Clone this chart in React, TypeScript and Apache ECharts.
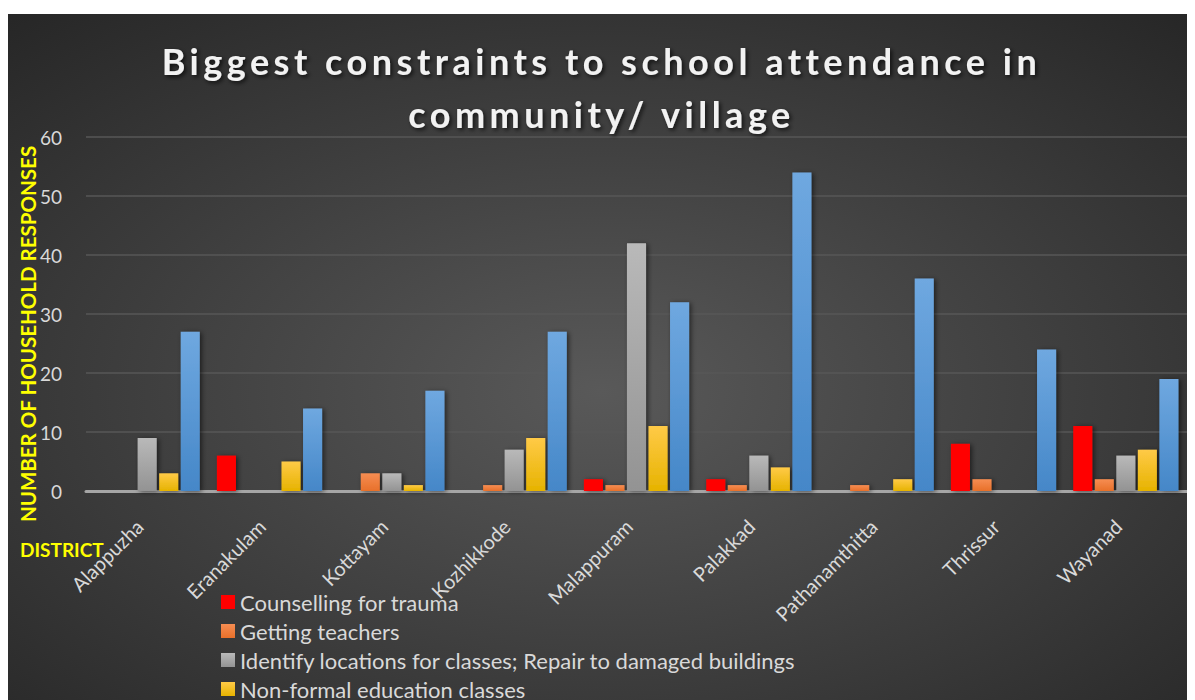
import React, { useEffect, useRef } from "react";
import * as echarts from "echarts";

const districts = ["Alappuzha", "Eranakulam", "Kottayam", "Kozhikkode", "Malappuram", "Palakkad", "Pathanamthitta", "Thrissur", "Wayanad"];
const counselling = [0, 6, 0, 0, 2, 2, 0, 8, 11];
const teachers = [0, 0, 3, 1, 1, 1, 1, 2, 2];
const locations = [9, 0, 3, 7, 42, 6, 0, 0, 6];
const nonFormal = [3, 5, 1, 9, 11, 4, 2, 0, 7];
const otherSupport = [27, 14, 17, 27, 32, 54, 36, 24, 19];
const seriesNames = [
  "Counselling for trauma",
  "Getting teachers",
  "Identify locations for classes; Repair to damaged buildings",
  "Non-formal education classes",
  "Provision of school supplies",
];
const visibleLegend = seriesNames.slice(0, 4);
const yTicks = [0, 10, 20, 30, 40, 50, 60];

const grad = (top: string, bottom: string) =>
  new echarts.graphic.LinearGradient(0, 0, 0, 1, [
    { offset: 0, color: top },
    { offset: 1, color: bottom },
  ]);

export default function App() {
  const ref = useRef<HTMLDivElement>(null);
  useEffect(() => {
    document.documentElement.style.overflow = "hidden";
    document.body.style.overflow = "hidden";
    const chart = echarts.init(ref.current!, undefined, { renderer: "svg" });
    const font = "Lato, 'Open Sans', sans-serif";
    const colors = [
      "#ff0000",
      grad("#f68d52", "#e8702a"),
      grad("#b9b9b9", "#939393"),
      grad("#ffca47", "#e6b300"),
      grad("#6fa8e0", "#4587c8"),
    ];
    const datasets = [counselling, teachers, locations, nonFormal, otherSupport];
    const applySpacing = () => {
      ref.current?.querySelectorAll("text").forEach((t) => {
        const s = t.textContent || "";
        if (s.startsWith("Biggest") || s.startsWith("community/")) {
          t.setAttribute("letter-spacing", "4.5");
        }
      });
    };
    chart.on("finished", applySpacing);
    chart.setOption({
      animation: false,
      backgroundColor: new echarts.graphic.RadialGradient(0.5, 0.55, 0.75, [
        { offset: 0, color: "#595959" },
        { offset: 1, color: "#262626" },
      ]),
      textStyle: { fontFamily: font },
      title: {
        text: "Biggest constraints to school attendance in\ncommunity/ village",
        left: "center",
        top: 15,
        textStyle: {
          fontFamily: font,
          fontSize: 36,
          fontWeight: "bold",
          color: "#f2f2f2",
          lineHeight: 53,
          textShadowColor: "rgba(0,0,0,0.7)",
          textShadowBlur: 4,
          textShadowOffsetX: 2,
          textShadowOffsetY: 2,
        },
      },
      legend: {
        orient: "vertical",
        left: 208,
        top: 572,
        height: 300,
        itemWidth: 14,
        itemHeight: 14,
        itemGap: 7,
        icon: "rect",
        data: visibleLegend,
        textStyle: { color: "#d9d9d9", fontSize: 22, fontFamily: font },
      },
      grid: { left: 78, right: 8, top: 123, bottom: 209, containLabel: false },
      xAxis: {
        type: "category",
        data: districts,
        axisLine: { lineStyle: { color: "#a6a6a6", width: 3 } },
        axisTick: { show: false },
        axisLabel: {
          rotate: 45,
          color: "#d9d9d9",
          fontSize: 20,
          margin: 24,
          padding: [0, 11, 0, 0],
          interval: 0,
          fontFamily: font,
        },
      },
      yAxis: {
        type: "value",
        min: yTicks[0],
        max: yTicks[yTicks.length - 1],
        interval: 10,
        axisLine: { show: false },
        axisTick: { show: false },
        axisLabel: { color: "#d9d9d9", fontSize: 19, margin: 24, fontFamily: font },
        splitLine: { lineStyle: { color: "#575757", width: 1.5 } },
      },
      series: datasets.map((d, i) => ({
        type: "bar",
        name: seriesNames[i],
        data: d,
        barGap: "13%",
        barCategoryGap: "14%",
        itemStyle: {
          color: colors[i],
          shadowColor: "rgba(0,0,0,0.55)",
          shadowBlur: 5,
          shadowOffsetX: 2,
          shadowOffsetY: 1,
        },
      })),
      graphic: [
        {
          type: "text",
          x: 20,
          y: 320,
          rotation: Math.PI / 2,
          style: {
            text: "NUMBER OF HOUSEHOLD RESPONSES",
            fill: "#ffff00",
            font: `bold 20.5px ${font}`,
            align: "center",
            verticalAlign: "middle",
          },
        },
        {
          type: "text",
          x: 12,
          y: 535,
          style: {
            text: "DISTRICT",
            fill: "#ffff00",
            font: `bold 19px ${font}`,
            align: "left",
            verticalAlign: "middle",
          },
        },
      ],
    });
    applySpacing();
    const tm = setTimeout(applySpacing, 30);
    return () => {
      clearTimeout(tm);
      chart.dispose();
    };
  }, []);
  return <div ref={ref} style={{ width: 1187, height: 686, marginTop: 6 }} />;
}
